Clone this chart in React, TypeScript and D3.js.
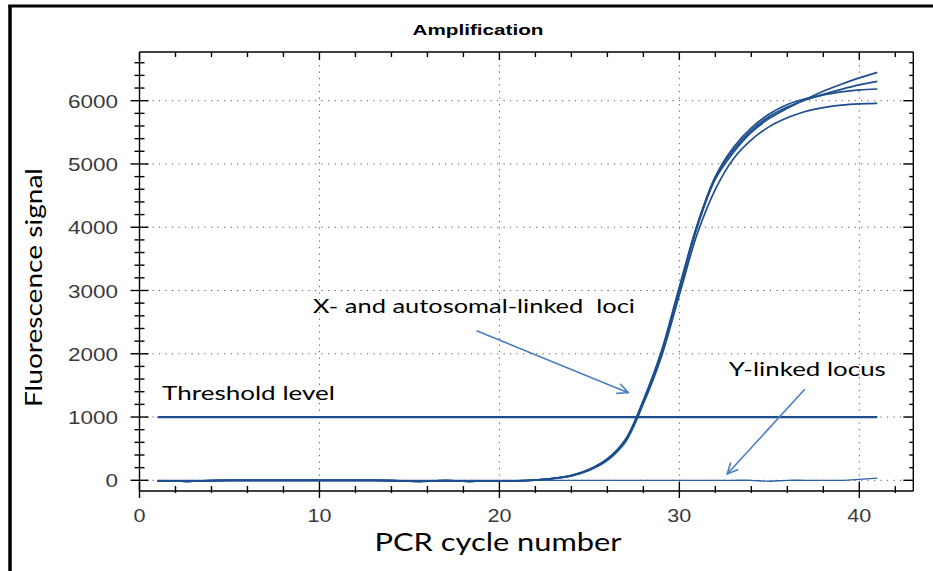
import React from "react";
import * as d3 from "d3";

// PCR cycles 1..41
const cycles = d3.range(1, 42);

// four X / autosomal amplification curves (fluorescence per cycle)
const early = [-15, -15, -15, -5, 0, 0, 0, 0, 0, 0, 0, 0, 0, -5, -15, -15, -5, -15, -15, -15, -10];
const curveA = [...early, 5, 30, 75, 170, 330, 630, 1250, 2010, 3020, 4010, 4760, 5180, 5500, 5720, 5880, 6020, 6150, 6260, 6360, 6447];
const curveB = [...early, 5, 32, 78, 175, 340, 645, 1270, 2040, 3060, 4050, 4790, 5220, 5530, 5750, 5900, 6010, 6100, 6180, 6250, 6305];
const curveC = [...early, 4, 28, 72, 165, 325, 620, 1240, 2000, 3010, 4020, 4800, 5260, 5570, 5790, 5940, 6030, 6090, 6140, 6170, 6185];
const curveD = [...early, 4, 28, 70, 160, 315, 605, 1210, 1950, 2930, 3900, 4600, 5080, 5380, 5590, 5730, 5830, 5890, 5930, 5950, 5958];
const amplification = [curveA, curveB, curveC, curveD];

// Y-linked locus stays flat
const yLinked = [0, 0, 0, 0, 0, 0, 0, 0, 0, 0, 0, 0, 0, 0, 0, 0, 0, 0, 0, 0, 0, 0, 0, 0, 0, 0, 0, 0, 0, 0, 0, 0, 0, 0, -15, 0, 0, 0, 0, 15, 35];

const thresholdLevel = 1000;
const thresholdRange = [1, 41];

const xTicks = [0, 10, 20, 30, 40];
const yTicks = [0, 1000, 2000, 3000, 4000, 5000, 6000];

// annotations, in data units [cycle, fluorescence]
const notes = [
  { text: "X- and autosomal-linked  loci", at: [9.64, 2644], width: 322 },
  { text: "Threshold level", at: [1.25, 1269], width: 173 },
  { text: "Y-linked locus", at: [32.75, 1648], width: 157 },
];
const arrows = [
  { from: [18.73, 2365], to: [27.16, 1385] },
  { from: [36.97, 1438], to: [32.66, 100] },
];

const W = 933;
const H = 571;
const plotTop = 52;
const plotBottom = 491;

const x = d3.scaleLinear().domain([0, 43]).range([139.5, 913.3]);
const y = d3.scaleLinear().domain([0, 6000]).range([480.3, 100.7]);

const lineColor = "#1d4e8d";
const arrowColor = "#4a7fc1";
const tickFont = "'Liberation Sans', Arial, sans-serif";
const textFont = "Lato, 'Open Sans', sans-serif";

const App: React.FC = () => {
  const line = d3
    .line<number>()
    .x((_, i) => x(cycles[i]))
    .y((d) => y(d))
    .curve(d3.curveCatmullRom.alpha(0.5));

  const left = x(0);
  const right = x(43);
  const yTop = y.invert(plotTop);

  const minorX = d3.range(0, 43.01, 2);
  const minorY = d3.range(0, yTop, 200);

  const arrowHead = (a: { from: number[]; to: number[] }) => {
    const x1 = x(a.from[0]), y1 = y(a.from[1]);
    const x2 = x(a.to[0]), y2 = y(a.to[1]);
    const ang = Math.atan2(y2 - y1, x2 - x1);
    const len = 12, spread = 0.45;
    const p1 = [x2 - len * Math.cos(ang - spread), y2 - len * Math.sin(ang - spread)];
    const p2 = [x2 - len * Math.cos(ang + spread), y2 - len * Math.sin(ang + spread)];
    return `M${p1[0]},${p1[1]}L${x2},${y2}L${p2[0]},${p2[1]}`;
  };

  return (
    <svg width={W} height={H} style={{ position: "absolute", left: 0, top: 0, background: "#fff" }}>
      {/* outer frame */}
      <line x1={10} y1={5} x2={10} y2={H} stroke="#000" strokeWidth={3.5} />
      <line x1={8.3} y1={6} x2={W} y2={6} stroke="#000" strokeWidth={3} />

      <text x={478} y={35} textAnchor="middle" fontFamily={tickFont} fontWeight="bold" fontSize={14}
        textLength={131} lengthAdjust="spacingAndGlyphs">Amplification</text>

      {/* dotted grid */}
      <g stroke="#555" strokeWidth={1} strokeDasharray="1.2 5.3">
        {xTicks.filter((t) => t > 0).map((t) => (
          <line key={"gx" + t} x1={x(t)} x2={x(t)} y1={plotTop} y2={plotBottom} />
        ))}
        {yTicks.map((t) => (
          <line key={"gy" + t} x1={left} x2={right} y1={y(t)} y2={y(t)} />
        ))}
      </g>

      {/* axes box */}
      <g stroke="#000" strokeWidth={1.4}>
        <line x1={left} x2={left} y1={plotTop} y2={plotBottom} />
        <line x1={right} x2={right} y1={plotTop} y2={plotBottom} />
        <line x1={left} x2={right} y1={plotTop} y2={plotTop} />
        <line x1={left} x2={right} y1={plotBottom} y2={plotBottom} />
        {minorX.map((t) => {
          const major = t % 10 === 0;
          return (
            <g key={"tx" + t}>
              <line x1={x(t)} x2={x(t)} y1={major ? 482 : 486} y2={major ? 498 : 493} />
              <line x1={x(t)} x2={x(t)} y1={plotTop} y2={plotTop + (major ? 8 : 5)} />
            </g>
          );
        })}
        {minorY.map((t) => {
          const major = t % 1000 === 0;
          return (
            <g key={"ty" + t}>
              <line y1={y(t)} y2={y(t)} x1={major ? left - 9 : left - 5} x2={major ? left + 9 : left + 5} />
              <line y1={y(t)} y2={y(t)} x1={right - (major ? 10 : 4)} x2={right} />
            </g>
          );
        })}
      </g>

      {/* tick labels */}
      <g fontFamily={tickFont} fontSize={19} fill="#3a3a3a">
        {yTicks.map((t) => (
          <text key={"ly" + t} x={118} y={y(t) + 7} textAnchor="end"
            textLength={12.5 * String(t).length} lengthAdjust="spacingAndGlyphs">{t}</text>
        ))}
        {xTicks.map((t) => (
          <text key={"lx" + t} x={x(t)} y={522} textAnchor="middle"
            textLength={12 * String(t).length} lengthAdjust="spacingAndGlyphs">{t}</text>
        ))}
      </g>

      {/* axis titles */}
      <text x={498} y={551} textAnchor="middle" fontFamily={textFont} fontSize={25} fill="#000"
        textLength={247} lengthAdjust="spacingAndGlyphs">PCR cycle number</text>
      <text transform="translate(42,287.5) rotate(-90)" textAnchor="middle" fontFamily={textFont}
        fontSize={23} fill="#000" textLength={239} lengthAdjust="spacingAndGlyphs">Fluorescence signal</text>

      {/* threshold */}
      <line x1={x(thresholdRange[0])} x2={x(thresholdRange[1])} y1={y(thresholdLevel)} y2={y(thresholdLevel)}
        stroke={lineColor} strokeWidth={2.2} />

      {/* Y-linked locus */}
      <path d={line(yLinked) ?? ""} fill="none" stroke="#2d609f" strokeWidth={1.3} />

      {/* amplification curves */}
      {amplification.map((c, i) => (
        <path key={"c" + i} d={line(c) ?? ""} fill="none" stroke={lineColor} strokeWidth={1.7} />
      ))}

      {/* annotations */}
      {notes.map((n) => (
        <text key={n.text} x={x(n.at[0])} y={y(n.at[1])} fontFamily={textFont} fontSize={20} fill="#000"
          textLength={n.width} lengthAdjust="spacingAndGlyphs" style={{ whiteSpace: "pre" }}>{n.text}</text>
      ))}
      {arrows.map((a, i) => (
        <g key={"a" + i} stroke={arrowColor} strokeWidth={1.6} fill="none">
          <line x1={x(a.from[0])} y1={y(a.from[1])} x2={x(a.to[0])} y2={y(a.to[1])} />
          <path d={arrowHead(a)} />
        </g>
      ))}
    </svg>
  );
};

export default App;
